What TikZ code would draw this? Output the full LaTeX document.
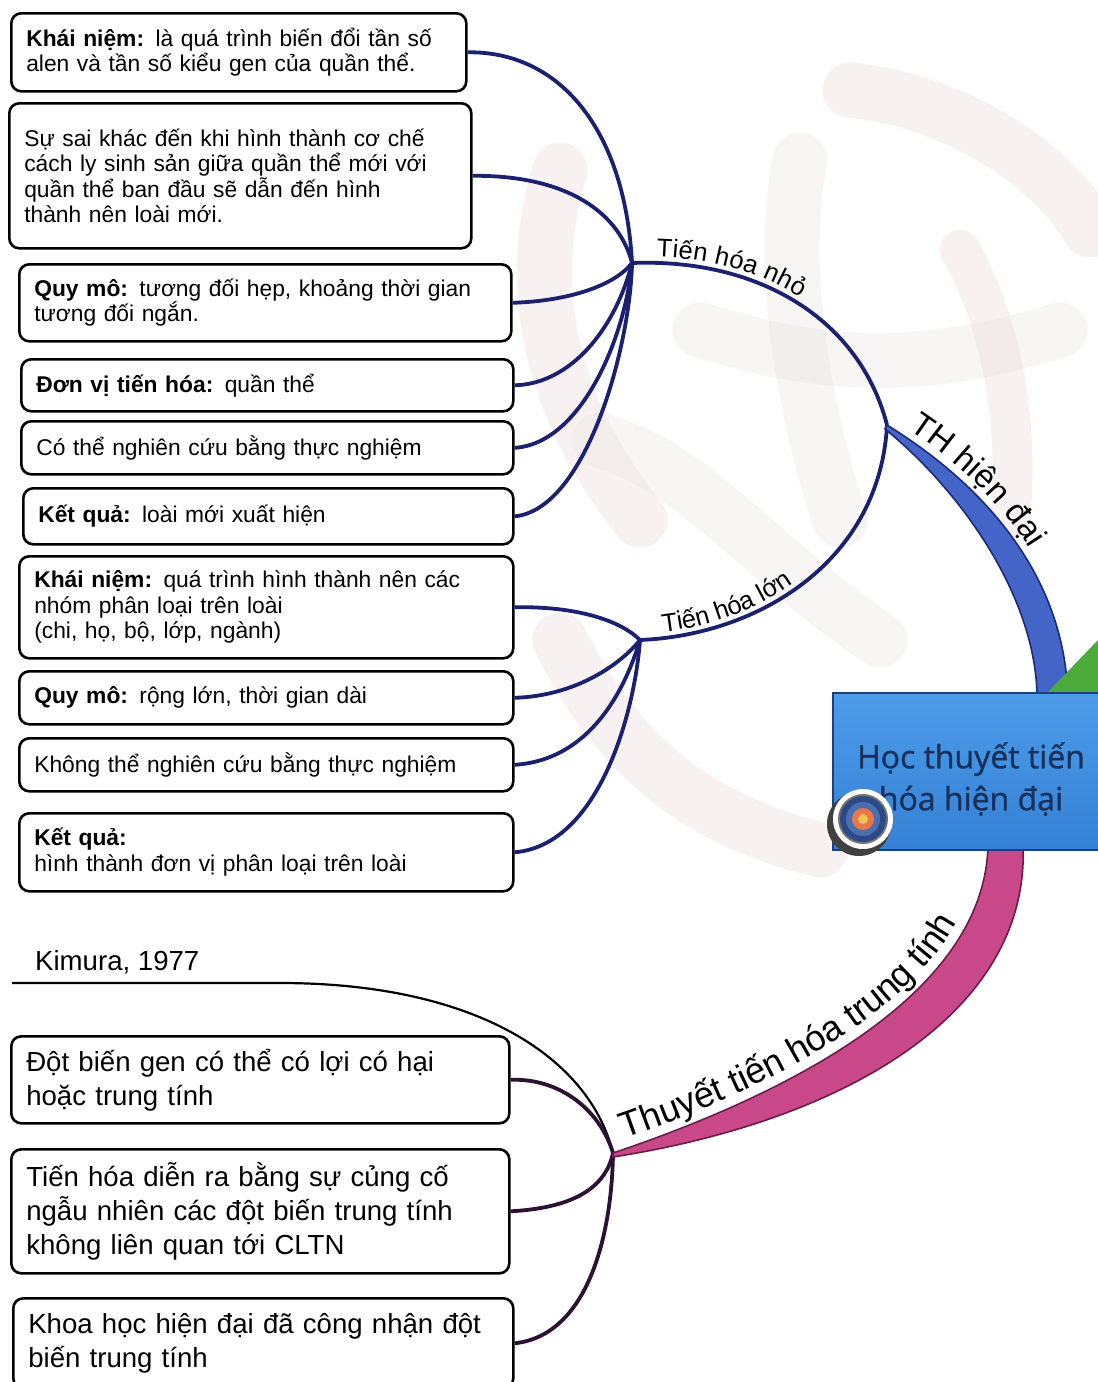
\documentclass[tikz,border=0pt]{standalone}
\usepackage{fontspec}
\setmainfont{Liberation Sans}
\newfontfamily\titlefont[FakeBold=1]{Open Sans}
\usetikzlibrary{decorations.text}

\definecolor{navyline}{HTML}{1C2070}
\definecolor{plumline}{HTML}{2B1233}
\definecolor{ribbonblue}{HTML}{4564C8}
\definecolor{ribbonblueedge}{HTML}{1C2A7A}
\definecolor{ribbonpink}{HTML}{C9488A}
\definecolor{ribbonpinkedge}{HTML}{6B1D4A}
\definecolor{leafgreen}{HTML}{4CAA3A}
\definecolor{centertop}{HTML}{4C9CE8}
\definecolor{centerbot}{HTML}{3581D6}
\definecolor{centeredge}{HTML}{1D3F7A}
\definecolor{titleink}{HTML}{17305C}
\definecolor{swirlpink}{HTML}{E9CFCF}
\definecolor{swirlgrey}{HTML}{E4E0DE}
\definecolor{ringnavy}{HTML}{2C4A86}
\definecolor{ringblue}{HTML}{4A6FB0}
\definecolor{ringorange}{HTML}{E8784C}
\definecolor{ringyellow}{HTML}{F4C24E}

\newcommand\topfont{\fontsize{22.8}{25.5}\selectfont}
\newcommand\botfont{\fontsize{27.6}{34}\selectfont}

\tikzset{
  leaf/.style={draw=black, line width=2.6pt, rounded corners=10pt, fill=white,
    inner xsep=15pt, inner ysep=3pt, align=left, anchor=north west},
  topleaf/.style={leaf, font=\topfont},
  botleaf/.style={leaf, font=\botfont},
  navyconn/.style={draw=navyline, line width=3.8pt},
  plumconn/.style={draw=plumline, line width=3.8pt},
  swirl/.style={line cap=round, line width=55pt, opacity=0.28},
}

\begin{document}
\begin{tikzpicture}[x=1pt,y=-1pt]
\useasboundingbox (0,0) rectangle (1098,1382);
\fill[white] (0,0) rectangle (1098,1382);

% faint background swirls
\draw[swirl, swirlpink] (560,170) .. controls (520,300) and (560,420) .. (640,520);
\draw[swirl, swirlgrey] (700,330) .. controls (800,360) and (900,380) .. (1060,330);
\draw[swirl, swirlpink] (850,90) .. controls (950,100) and (1050,160) .. (1090,230);
\draw[swirl, swirlgrey] (800,160) .. controls (780,260) and (800,400) .. (840,520);
\draw[swirl, swirlpink] (560,640) .. controls (620,760) and (700,820) .. (820,850);
\draw[swirl, swirlgrey] (600,440) .. controls (700,470) and (760,560) .. (880,640);
\draw[swirl, swirlpink, line width=40pt] (960,250) .. controls (1000,320) and (1020,420) .. (1010,520);

% hubs and junctions
\coordinate (h1) at (632,263);
\coordinate (h2) at (640,640);
\coordinate (j) at (887,425);
\coordinate (c) at (613,1153);
\coordinate (kimstart) at (12,983);

% leaves of "Tiến hóa nhỏ"
\node[topleaf, text width=425pt, minimum height=78pt] (a1) at (10,12)
  {\textbf{Khái niệm:} là quá trình biến đổi tần số\\alen và tần số kiểu gen của quần thể.};
\node[topleaf, text width=432pt, minimum height=145pt] (a2) at (8,102)
  {Sự sai khác đến khi hình thành cơ chế\\cách ly sinh sản giữa quần thể mới với\\quần thể ban đầu sẽ dẫn đến hình\\thành nên loài mới.};
\node[topleaf, text width=462pt, minimum height=77pt] (a3) at (18,263)
  {\textbf{Quy mô:} tương đối hẹp, khoảng thời gian\\tương đối ngắn.};
\node[topleaf, text width=462pt, minimum height=52pt] (a4) at (20,358)
  {\textbf{Đơn vị tiến hóa:} quần thể};
\node[topleaf, text width=462pt, minimum height=53pt] (a5) at (20,420)
  {Có thể nghiên cứu bằng thực nghiệm};
\node[topleaf, text width=460pt, minimum height=56pt] (a6) at (22,487)
  {\textbf{Kết quả:} loài mới xuất hiện};

% leaves of "Tiến hóa lớn"
\node[topleaf, text width=464pt, minimum height=102pt] (b1) at (18,555)
  {\textbf{Khái niệm:} quá trình hình thành nên các\\nhóm phân loại trên loài\\(chi, họ, bộ, lớp, ngành)};
\node[topleaf, text width=464pt, minimum height=53pt] (b2) at (18,670)
  {\textbf{Quy mô:} rộng lớn, thời gian dài};
\node[topleaf, text width=464pt, minimum height=53pt] (b3) at (18,737)
  {Không thể nghiên cứu bằng thực nghiệm};
\node[topleaf, text width=464pt, minimum height=78pt] (b4) at (18,812)
  {\textbf{Kết quả:}\\hình thành đơn vị phân loại trên loài};

% leaves of "Thuyết tiến hóa trung tính"
\node[font=\botfont, anchor=west, inner sep=0pt] (kim) at (35,962) {Kimura, 1977};
\node[botleaf, text width=468pt, minimum height=87pt] (c1) at (10,1035)
  {Đột biến gen có thể có lợi có hại\\hoặc trung tính};
\node[botleaf, text width=468pt, minimum height=124pt] (c2) at (10,1148)
  {Tiến hóa diễn ra bằng sự củng cố\\ngẫu nhiên các đột biến trung tính\\không liên quan tới CLTN};
\node[botleaf, text width=470pt, minimum height=90pt] (c3) at (12,1297)
  {Khoa học hiện đại đã công nhận đột\\biến trung tính};

% connectors to hub h1
\draw[navyconn] (a1.east) .. controls (560,51) and (625,130) .. (h1);
\draw[navyconn] (a2.east) .. controls (570,175) and (620,215) .. (h1);
\draw[navyconn] (a3.east) .. controls (570,301) and (615,285) .. (h1);
\draw[navyconn] (a4.east) .. controls (570,384) and (615,330) .. (h1);
\draw[navyconn] (a5.east) .. controls (580,444) and (625,340) .. (h1);
\draw[navyconn] (a6.east) .. controls (585,510) and (630,350) .. (h1);

% connectors to hub h2
\draw[navyconn] (b1.east) .. controls (575,606) and (620,620) .. (h2);
\draw[navyconn] (b2.east) .. controls (575,696) and (620,665) .. (h2);
\draw[navyconn] (b3.east) .. controls (590,760) and (625,690) .. (h2);
\draw[navyconn] (b4.east) .. controls (600,845) and (635,710) .. (h2);

% branches from the junction
\draw[navyconn] (h1) .. controls (760,258) and (860,320) .. (j);
\draw[navyconn] (h2) .. controls (760,635) and (880,560) .. (j);

% connectors to hub c
\draw[draw=black, line width=2.2pt] (kimstart) -- (280,983) .. controls (480,983) and (590,1060) .. (c);
\draw[plumconn] (c1.east) .. controls (560,1078) and (600,1110) .. (c);
\draw[plumconn] (c2.east) .. controls (570,1208) and (605,1190) .. (c);
\draw[plumconn] (c3.east) .. controls (590,1335) and (612,1230) .. (c);

% tapered main ribbons
\filldraw[fill=ribbonblue, draw=ribbonblueedge, line width=1.6pt]
  (j) .. controls (960,470) and (1068,560) .. (1068,705)
  -- (1037,705) .. controls (1040,600) and (960,490) .. (885,429) -- cycle;
\filldraw[fill=ribbonpink, draw=ribbonpinkedge, line width=1.6pt]
  (c) .. controls (800,1090) and (985,990) .. (988,845)
  -- (1023,845) .. controls (1030,1010) and (850,1120) .. (613,1157) -- cycle;

% green ribbon peeking out at the right
\fill[leafgreen] (1047,693) -- (1098,640) -- (1098,693) -- cycle;

% branch labels
\path[decorate, decoration={text along path, raise=6pt,
    text align={left indent=24pt}, text={|\fontsize{25.5}{25.5}\selectfont|Tiến hóa nhỏ}}]
  (h1) .. controls (760,258) and (860,320) .. (j);
\path[decorate, decoration={text along path, raise=6pt,
    text align={left indent=24pt}, text={|\fontsize{25.5}{25.5}\selectfont|Tiến hóa lớn}}]
  (h2) .. controls (760,635) and (880,560) .. (j);
\path[decorate, decoration={text along path, raise=8pt,
    text align={left indent=20pt}, text={|\fontsize{33}{33}\selectfont|TH hiện đại}}]
  (j) .. controls (960,470) and (1068,560) .. (1068,705);
\path[decorate, decoration={text along path, raise=10pt,
    text align={left indent=16pt}, text={|\fontsize{36}{36}\selectfont|Thuyết tiến hóa trung tính}}]
  (c) .. controls (800,1090) and (985,990) .. (988,845);

% central topic
\shade[top color=centertop, bottom color=centerbot, draw=centeredge, line width=2pt]
  (833,693) rectangle (1110,850);
\node[font=\titlefont\fontsize{32}{42}\selectfont, text=titleink, align=center, inner sep=0pt]
  (title) at (971,779) {Học thuyết tiến\\hóa hiện đại};

% target badge
\fill[black!75] (859,824) circle (32);
\fill[white] (863,819) circle (30);
\fill[black!55] (863,819) circle (25);
\fill[ringnavy] (863,819) circle (23);
\fill[ringblue] (863,819) circle (17);
\fill[ringorange] (863,819) circle (11);
\fill[ringyellow] (863,819) circle (5);
\end{tikzpicture}
\end{document}
